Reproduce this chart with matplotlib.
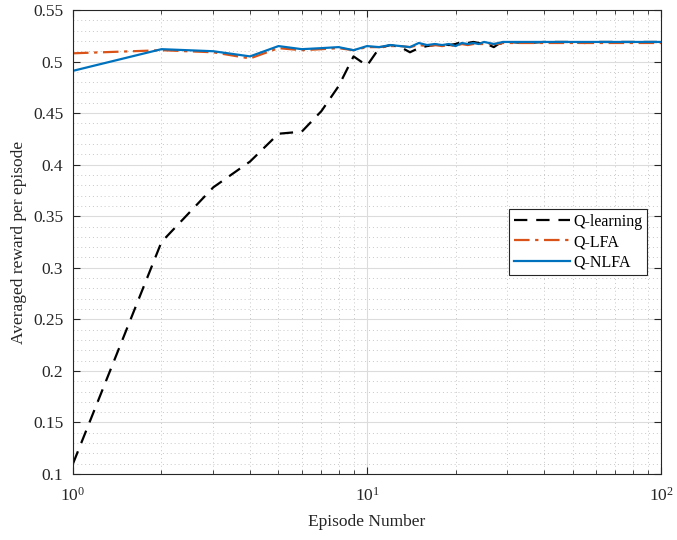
import matplotlib
matplotlib.use("Agg")
from matplotlib import pyplot as plt
from matplotlib.ticker import FixedLocator, NullFormatter, LogLocator

plt.rcParams['font.family'] = ['Liberation Serif', 'DejaVu Serif']
plt.rcParams['mathtext.fontset'] = 'stix'

# episodes with listed values
episodes = list(range(1, 31)) + [35, 40, 45, 50, 55, 60, 65, 70, 75, 80, 85, 90, 95, 100]

q_learning = [0.110, 0.325, 0.378, 0.403, 0.430, 0.432, 0.452, 0.476, 0.505, 0.496,
              0.513, 0.516, 0.514, 0.509, 0.513, 0.515, 0.516, 0.517, 0.516, 0.517,
              0.519, 0.518, 0.519, 0.518, 0.517, 0.516, 0.514, 0.517, 0.518, 0.519,
              0.518, 0.519, 0.519, 0.519, 0.518, 0.519, 0.519, 0.519, 0.519, 0.519,
              0.519, 0.519, 0.519, 0.519]

q_lfa = [0.508, 0.511, 0.509, 0.503, 0.513, 0.511, 0.512, 0.513, 0.511, 0.514,
         0.514, 0.515, 0.515, 0.514, 0.516, 0.515, 0.516, 0.515, 0.516, 0.515,
         0.517, 0.516, 0.517, 0.517, 0.517, 0.517, 0.517, 0.517, 0.518, 0.518,
         0.518, 0.518, 0.518, 0.518, 0.518, 0.518, 0.518, 0.518, 0.518, 0.518,
         0.518, 0.518, 0.518, 0.518]

q_nlfa = [0.491, 0.512, 0.510, 0.505, 0.515, 0.512, 0.513, 0.514, 0.511, 0.515,
          0.514, 0.516, 0.515, 0.514, 0.518, 0.516, 0.517, 0.516, 0.517, 0.515,
          0.518, 0.517, 0.518, 0.517, 0.519, 0.518, 0.517, 0.518, 0.519, 0.519,
          0.519, 0.519, 0.519, 0.519, 0.519, 0.519, 0.519, 0.519, 0.519, 0.519,
          0.519, 0.519, 0.519, 0.519]

y_ticks = [0.1, 0.15, 0.2, 0.25, 0.3, 0.35, 0.4, 0.45, 0.5, 0.55]
y_labels = ['0.1', '0.15', '0.2', '0.25', '0.3', '0.35', '0.4', '0.45', '0.5', '0.55']

fig = plt.figure(figsize=(6.77, 5.4), dpi=100)
ax = fig.add_axes([0.1078, 0.1222, 0.8686, 0.8593])

ax.plot(episodes, q_learning, color='black', linestyle=(0, (6, 4)), linewidth=1.6, label='Q-learning')
ax.plot(episodes, q_lfa, color='#D95319', linestyle=(0, (7, 2.5, 1.5, 2.5)), linewidth=1.6, label='Q-LFA')
ax.plot(episodes, q_nlfa, color='#0072BD', linewidth=1.6, label='Q-NLFA')

ax.set_xscale('log')
ax.set_xlim(1, 100)
ax.set_ylim(0.1, 0.55)
ax.set_yticks(y_ticks)
ax.set_yticklabels(y_labels)
ax.yaxis.set_minor_locator(FixedLocator([0.1 + 0.01 * i for i in range(46)]))
ax.xaxis.set_minor_locator(LogLocator(base=10, subs=range(2, 10)))
ax.xaxis.set_minor_formatter(NullFormatter())

ax.grid(True, which='major', color='#dcdcdc', linestyle='-', linewidth=0.8)
ax.grid(True, which='minor', color='#c8c8c8', linestyle=(0, (1, 3)), linewidth=0.7)
ax.set_axisbelow(True)

ax.tick_params(which='both', direction='in', top=True, right=True, labelsize=12.5, colors='#262626')
ax.tick_params(axis='x', which='major', length=5, pad=9)
ax.tick_params(axis='y', which='major', length=5, pad=7)
ax.tick_params(axis='x', which='minor', length=3)
ax.tick_params(axis='y', which='minor', length=0)
for s in ax.spines.values():
    s.set_color('#262626')
    s.set_linewidth(0.8)

ax.set_xlabel('Episode Number', fontsize=12.5, color='#262626', labelpad=7)
ax.set_ylabel('Averaged reward per episode', fontsize=12.5, color='#262626', labelpad=4)

leg = ax.legend(loc='center right', bbox_to_anchor=(0.976, 0.5), borderaxespad=0,
                fontsize=11.5, fancybox=False, framealpha=1, edgecolor='#262626',
                handlelength=3.5, handletextpad=0.2, borderpad=0.3, labelspacing=0.28)
leg.get_frame().set_linewidth(0.8)

fig.savefig('out.png', dpi=100)
